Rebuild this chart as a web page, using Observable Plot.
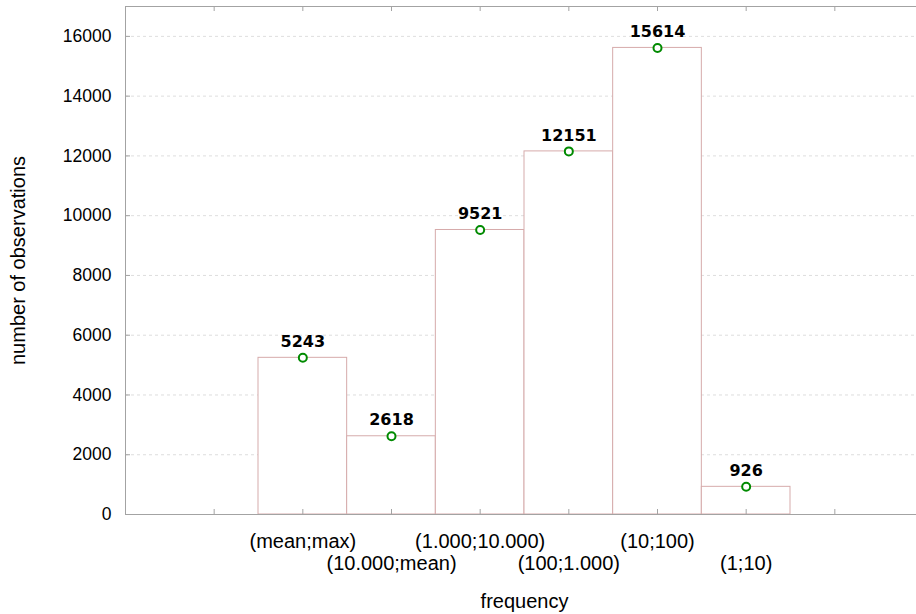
<!DOCTYPE html>
<html>
<head>
<meta charset="utf-8">
<script src="https://cdn.jsdelivr.net/npm/d3@7"></script>
<script src="https://cdn.jsdelivr.net/npm/@observablehq/plot@0.6"></script>
<style>
  html, body { margin: 0; padding: 0; background: white; }
</style>
</head>
<body>
<div id="chart"></div>
<script>
const categories = ["(mean;max)", "(10.000;mean)", "(1.000;10.000)", "(100;1.000)", "(10;100)", "(1;10)"];
const counts = [5243, 2618, 9521, 12151, 15614, 926];
const positions = [2, 3, 4, 5, 6, 7];
const xTicks = [1, 2, 3, 4, 5, 6, 7, 8];
const yTicks = [0, 2000, 4000, 6000, 8000, 10000, 12000, 14000, 16000];
const gridTicks = [2000, 4000, 6000, 8000, 10000, 12000, 14000, 16000];

const data = categories.map((c, i) => ({cat: c, pos: positions[i], count: counts[i], row: i % 2}));

const W = 916, H = 614, ML = 125, MT = 6, MB = 100, MR = -7;
const frameW = W - ML - MR, frameH = H - MT - MB;
const axisColor = "#a3a3a3";
const sans = "'Liberation Sans', Arial, sans-serif";

const chart = Plot.plot({
  width: W, height: H,
  marginLeft: ML, marginTop: MT, marginBottom: MB, marginRight: MR,
  style: {fontFamily: sans, background: "white", color: "black"},
  x: {domain: [0, 9], axis: null},
  y: {domain: [0, 17000], axis: null},
  marks: [
    Plot.ruleY(gridTicks, {stroke: "#dedede", strokeDasharray: "3,3"}),
    Plot.rectY(data, {x1: d => d.pos - 0.5, x2: d => d.pos + 0.5, y: "count", fill: "white", stroke: "#d6abab", strokeWidth: 1}),
    Plot.frame({stroke: axisColor}),
    Plot.ruleX(xTicks, {stroke: axisColor, insetTop: frameH - 5}),
    Plot.ruleX(xTicks, {stroke: axisColor, insetBottom: frameH - 5}),
    Plot.ruleY(yTicks, {stroke: axisColor, insetRight: frameW - 5}),
    Plot.axisY({ticks: yTicks, tickSize: 0, tickPadding: 14, fontSize: 17.5, tickFormat: d => String(d), label: null}),
    Plot.text(data, {x: "pos", frameAnchor: "bottom", text: d => d.cat, fontSize: 20, textAnchor: "middle",
      filter: d => d.row === 0, lineAnchor: "middle", dy: 27}),
    Plot.text(data, {x: "pos", frameAnchor: "bottom", text: d => d.cat, fontSize: 20, textAnchor: "middle",
      filter: d => d.row === 1, lineAnchor: "middle", dy: 49}),
    Plot.text(["number of observations"], {frameAnchor: "left", dx: -107, rotate: -90, fontSize: 20, textAnchor: "middle", lineAnchor: "middle", text: d => d}),
    Plot.text(["frequency"], {frameAnchor: "bottom", dy: 87, fontSize: 20, lineAnchor: "middle", text: d => d}),
    Plot.dot(data, {x: "pos", y: "count", r: 4, stroke: "#008a00", strokeWidth: 2, fill: "white"}),
    Plot.text(data, {x: "pos", y: "count", text: d => String(d.count), dy: -16, fontSize: 16, fontWeight: "bold",
      fontFamily: "'DejaVu Sans', sans-serif", fill: "black"})
  ]
});
document.getElementById("chart").appendChild(chart);
</script>
</body>
</html>
